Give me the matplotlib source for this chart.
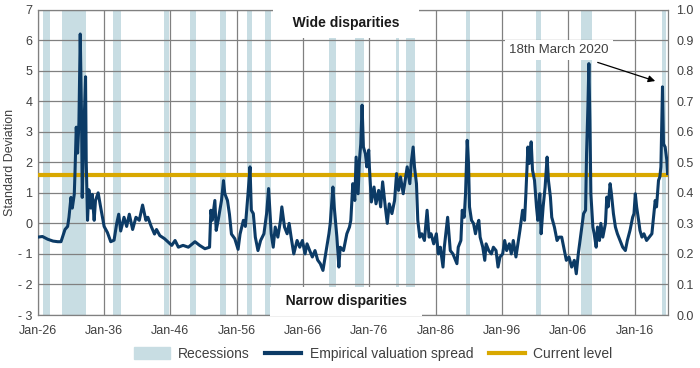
import matplotlib
matplotlib.use('Agg')
import matplotlib.pyplot as plt
from matplotlib.patches import Patch
from matplotlib.lines import Line2D

# spread series (decimal year, standard deviations)
years = [
    1926.0, 1926.7, 1927.5, 1928.3, 1929.0, 1929.5, 1929.8, 1930.1, 1930.5, 1930.7,
    1931.0, 1931.2, 1931.5, 1931.6, 1931.8, 1932.0, 1932.2, 1932.4, 1932.6, 1932.7,
    1932.9, 1933.2, 1933.3, 1933.5, 1933.7, 1934.0, 1934.2, 1934.5, 1934.7, 1935.1,
    1935.5, 1936.0, 1936.5, 1937.0, 1937.5, 1937.9, 1938.2, 1938.5, 1939.0, 1939.4,
    1939.8, 1940.3, 1940.8, 1941.3, 1941.8, 1942.3, 1942.6, 1943.1, 1943.6, 1943.9,
    1944.4, 1945.1, 1946.2, 1946.7, 1947.2, 1947.9, 1948.7, 1949.7, 1950.4, 1951.2,
    1951.9, 1952.1, 1952.3, 1952.7, 1952.9, 1953.2, 1953.7, 1954.0, 1954.2, 1954.6,
    1954.9, 1955.2, 1955.7, 1956.2, 1956.5, 1957.0, 1957.3, 1957.7, 1958.0, 1958.2,
    1958.5, 1958.8, 1959.2, 1959.6, 1960.1, 1960.5, 1960.8, 1961.2, 1961.5, 1961.8,
    1962.2, 1962.6, 1962.8, 1963.2, 1963.6, 1963.9, 1964.2, 1964.6, 1965.1, 1965.5,
    1965.9, 1966.3, 1966.6, 1967.0, 1967.4, 1967.8, 1968.2, 1968.6, 1969.0, 1969.4,
    1969.9, 1970.1, 1970.5, 1970.7, 1971.1, 1971.4, 1971.6, 1972.1, 1972.6, 1973.0,
    1973.2, 1973.5, 1973.8, 1974.0, 1974.3, 1974.5, 1974.7, 1974.9, 1975.1, 1975.4,
    1975.6, 1975.9, 1976.0, 1976.3, 1976.7, 1977.0, 1977.4, 1977.7, 1978.0, 1978.4,
    1978.7, 1979.0, 1979.4, 1979.8, 1980.1, 1980.4, 1980.7, 1981.1, 1981.4, 1981.7,
    1982.1, 1982.3, 1982.6, 1982.8, 1983.1, 1983.3, 1983.6, 1983.9, 1984.3, 1984.7,
    1985.0, 1985.3, 1985.7, 1986.1, 1986.4, 1986.7, 1987.1, 1987.3, 1987.8, 1988.2,
    1988.6, 1989.2, 1989.4, 1989.8, 1990.0, 1990.3, 1990.5, 1990.75, 1990.95, 1991.1,
    1991.4, 1991.7, 1992.0, 1992.2, 1992.5, 1992.7, 1993.1, 1993.4, 1993.6, 1994.0,
    1994.4, 1994.7, 1995.1, 1995.4, 1995.7, 1996.1, 1996.4, 1996.7, 1997.1, 1997.4,
    1997.7, 1998.1, 1998.4, 1998.7, 1999.1, 1999.4, 1999.6, 1999.9, 2000.1, 2000.4,
    2000.6, 2000.9, 2001.2, 2001.4, 2001.7, 2001.9, 2002.2, 2002.5, 2002.8, 2003.0,
    2003.3, 2003.5, 2003.9, 2004.3, 2004.6, 2005.0, 2005.4, 2005.7, 2006.1, 2006.5,
    2006.9, 2007.2, 2007.5, 2007.9, 2008.3, 2008.6, 2008.75, 2008.95, 2009.1, 2009.25,
    2009.4, 2009.7, 2009.9, 2010.2, 2010.4, 2010.7, 2010.9, 2011.2, 2011.6, 2011.8,
    2012.0, 2012.3, 2012.5, 2012.8, 2013.1, 2013.4, 2013.8, 2014.2, 2014.6, 2014.9,
    2015.3, 2015.7, 2015.9, 2016.1, 2016.3, 2016.6, 2016.8, 2017.1, 2017.4, 2017.8,
    2018.2, 2018.6, 2018.9, 2019.1, 2019.3, 2019.6, 2019.8, 2019.96, 2020.2, 2020.35,
    2020.6, 2020.85, 2020.97,
]
spread = [
    -0.45, -0.43, -0.52, -0.58, -0.60, -0.60, -0.40, -0.20, -0.10, 0.20,
    0.85, 0.50, 0.95, 1.60, 3.15, 2.30, 3.30, 6.20, 3.40, 0.85,
    2.70, 4.80, 2.05, 0.10, 1.10, 0.50, 0.95, 0.10, 0.75, 1.00,
    0.50, -0.10, -0.30, -0.60, -0.55, 0.00, 0.30, -0.25, 0.20, -0.10,
    0.30, -0.20, 0.20, 0.10, 0.60, 0.10, 0.20, -0.10, -0.35, -0.20,
    -0.40, -0.50, -0.72, -0.56, -0.78, -0.72, -0.78, -0.60, -0.72, -0.83,
    -0.78, 0.43, 0.10, 0.75, -0.23, 0.10, 0.75, 1.40, 0.97, 0.75,
    0.30, -0.35, -0.50, -0.85, -0.35, 0.10, -0.10, 0.97, 1.85, 0.43,
    0.32, -0.45, -0.89, -0.56, -0.34, 0.32, 1.14, -0.34, -0.78, -0.12,
    -0.45, 0.10, 0.54, -0.12, -0.34, 0.00, -0.45, -1.00, -0.56, -0.78,
    -0.56, -1.00, -0.67, -0.89, -1.10, -0.89, -1.20, -1.32, -1.54, -1.00,
    -0.34, 0.00, 1.19, 0.54, -0.45, -1.43, -0.78, -0.89, -0.34, -0.12,
    0.10, 1.30, 0.75, 2.17, 0.97, 2.07, 2.60, 3.87, 2.50, 2.28,
    1.85, 2.40, 1.85, 0.70, 1.19, 0.64, 1.08, 0.54, 1.36, 0.54,
    0.00, 0.64, 0.32, 0.75, 1.63, 1.08, 1.52, 0.97, 1.41, 1.85,
    1.30, 1.96, 2.50, 1.85, 1.30, 0.10, -0.45, -0.34, -0.56, 0.43,
    -0.45, -0.34, -0.67, -0.34, -1.00, -0.78, -1.43, -0.78, 0.20, -0.89,
    -1.00, -1.32, -0.78, -0.56, 0.43, 0.20, 0.97, 2.72, 1.96, 0.54,
    0.10, 0.00, -0.34, -0.12, 0.10, -0.45, -0.78, -1.21, -0.67, -0.89,
    -1.00, -0.78, -0.89, -1.43, -1.10, -1.00, -0.56, -0.89, -0.67, -1.00,
    -0.56, -1.10, -0.67, -0.23, 0.43, 0.10, 0.97, 2.50, 1.96, 2.67,
    1.74, 1.41, 0.54, 0.10, 0.97, -0.34, 0.54, 1.19, 2.17, 1.41,
    0.86, 0.20, -0.12, -0.56, -0.45, -0.45, -0.89, -1.21, -1.10, -1.43,
    -1.21, -1.65, -1.00, -0.34, 0.32, 0.43, 2.28, 3.80, 5.23, 3.38,
    0.97, -0.12, -0.34, -0.78, -0.12, -0.56, 0.00, -0.45, 0.00, 0.86,
    0.54, 1.30, 0.97, 0.32, -0.12, -0.34, -0.56, -0.78, -0.89, -0.56,
    -0.23, 0.20, 0.32, 0.97, 0.54, 0.10, -0.23, -0.45, -0.34, -0.56,
    -0.45, -0.34, 0.32, 0.75, 0.54, 1.41, 1.52, 1.85, 4.47, 2.60,
    2.50, 2.07, 1.63,
]
current_level = 1.6

# recession periods (start, end) in decimal years
rec_start = [1926.8, 1929.6, 1937.4, 1945.1, 1948.9, 1953.5, 1957.6, 1960.3,
             1969.9, 1973.9, 1980.0, 1981.5, 1990.5, 2001.2, 2007.9, 2020.1]
rec_end = [1927.9, 1933.2, 1938.5, 1945.8, 1949.8, 1954.4, 1958.3, 1961.1,
           1970.9, 1975.2, 1980.5, 1982.9, 1991.2, 2001.9, 2009.5, 2020.8]

tick_years = [1926, 1936, 1946, 1956, 1966, 1976, 1986, 1996, 2006, 2016]
tick_labels = ['Jan-26', 'Jan-36', 'Jan-46', 'Jan-56', 'Jan-66', 'Jan-76',
               'Jan-86', 'Jan-96', 'Jan-06', 'Jan-16']

navy = '#0c3b66'
gold = '#d9a800'
rec_color = '#c8dde3'
grid_color = '#808080'
text_color = '#404040'

plt.rcParams['font.family'] = ['Liberation Sans', 'DejaVu Sans']

fig = plt.figure(figsize=(7, 3.68), dpi=100)
ax = fig.add_axes([0.054, 0.144, 0.9, 0.83])

for s, e in zip(rec_start, rec_end):
    ax.axvspan(s, e, color=rec_color, lw=0, zorder=1)

ax.set_xlim(1926, 2021)
ax.set_ylim(-3, 7)
ax.set_yticks(range(-3, 8))
ax.set_yticklabels([str(v).replace('-', '- ') for v in range(-3, 8)])
ax.set_xticks(tick_years)
ax.set_xticklabels(tick_labels)
ax.grid(True, color=grid_color, lw=0.9, zorder=2)
ax.set_axisbelow(False)
ax.tick_params(length=0, labelsize=9, colors=text_color)
ax.tick_params(axis='x', pad=7)
ax.tick_params(axis='y', pad=4)
for sp in ax.spines.values():
    sp.set_color(grid_color)
    sp.set_linewidth(0.9)

ax.axhline(current_level, color=gold, lw=3, zorder=3)
ax.plot(years, spread, color=navy, lw=2.2, zorder=4, solid_joinstyle='round')

ax.set_ylabel('Standard Deviation', fontsize=9, color=text_color)
ax.yaxis.set_label_coords(-0.035, 0.5)

box = dict(boxstyle='square,pad=0.55', fc='white', ec='none')
ax.text(1972.5, 6.55, '   Wide disparities   ', ha='center', va='center',
        fontsize=10, fontweight='bold', color='#1a1a1a', bbox=box, zorder=6)
ax.text(1972.5, -2.55, '  Narrow disparities  ', ha='center', va='center',
        fontsize=10, fontweight='bold', color='#1a1a1a', bbox=box, zorder=6)

ax.annotate('18th March 2020', xy=(2019.1, 4.66), xytext=(2004.6, 5.68),
            ha='center', va='center', fontsize=9.5, color=text_color,
            bbox=dict(boxstyle='square,pad=0.3', fc='white', ec='none'),
            arrowprops=dict(arrowstyle='-|>', color='black', lw=0.9,
                            shrinkA=6, shrinkB=0, mutation_scale=10),
            zorder=7)

ax2 = ax.twinx()
ax2.set_ylim(0, 1.0)
ax2.set_yticks([i / 10 for i in range(11)])
ax2.set_yticklabels(['%.1f' % (i / 10) for i in range(11)])
ax2.tick_params(length=0, labelsize=9, colors=text_color, pad=6)
for sp in ax2.spines.values():
    sp.set_visible(False)

handles = [Patch(color=rec_color, label='Recessions'),
           Line2D([], [], color=navy, lw=3, label='Empirical valuation spread'),
           Line2D([], [], color=gold, lw=3, label='Current level')]
fig.legend(handles=handles, loc='center', bbox_to_anchor=(0.533, 0.038), ncol=3,
           frameon=False, fontsize=10, handlelength=2.6, handleheight=0.9,
           columnspacing=1.1, handletextpad=0.6, labelcolor=text_color)

fig.savefig('out.png', dpi=100)
